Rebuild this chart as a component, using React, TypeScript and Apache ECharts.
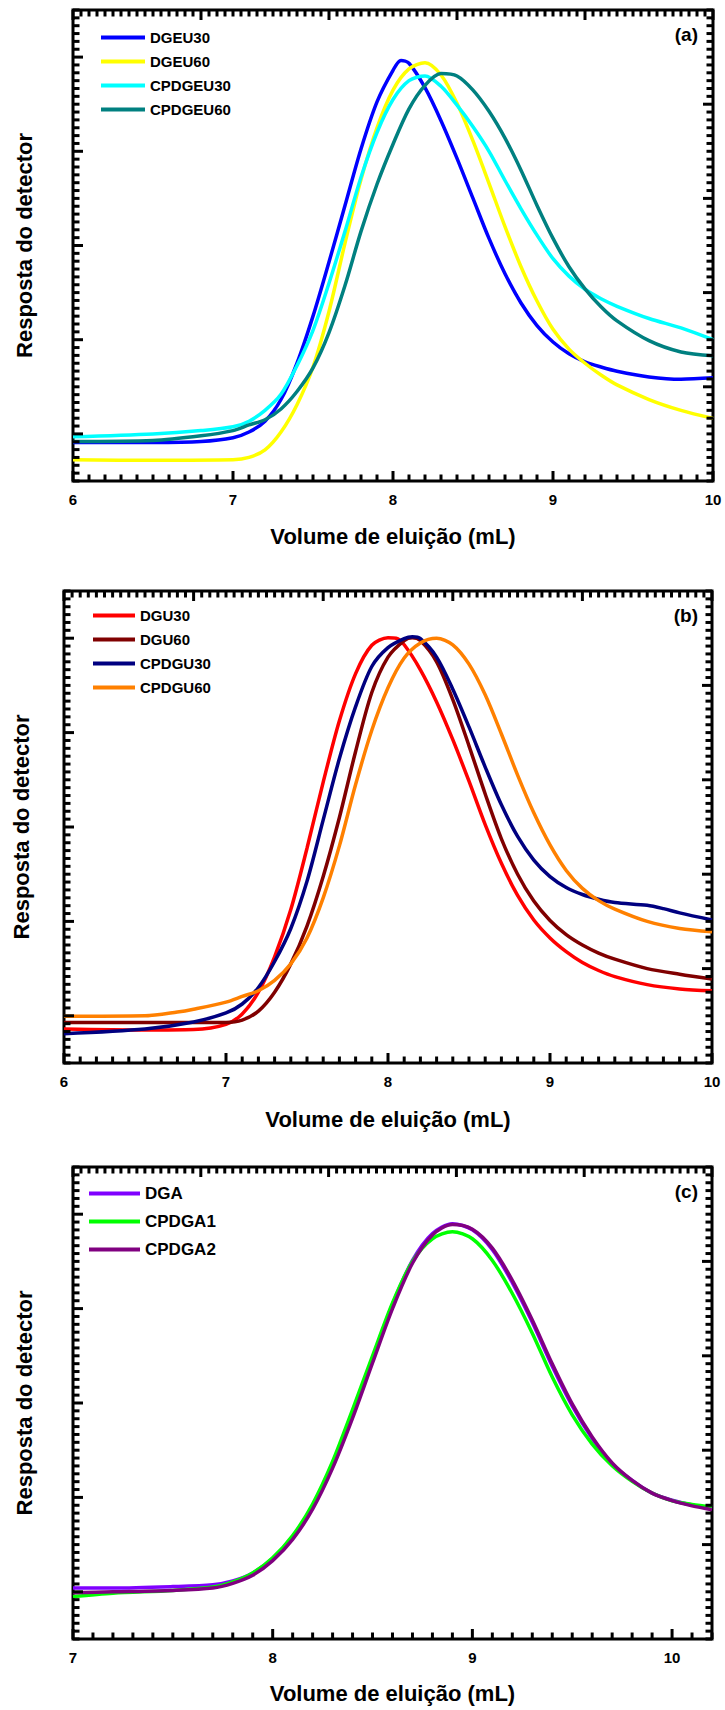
import React, { useEffect, useRef } from "react";
import * as echarts from "echarts";

type Pt = [number, number];

// ---------- Panel (a) ----------
const DGEU30: Pt[] = [[6,0.082],[6.5,0.082],[6.8,0.084],[7.0,0.092],[7.1,0.104],[7.2,0.127],[7.3,0.173],[7.4,0.250],[7.5,0.350],[7.6,0.465],[7.7,0.585],[7.8,0.705],[7.9,0.805],[8.0,0.872],[8.05,0.893],[8.1,0.887],[8.2,0.835],[8.3,0.765],[8.4,0.685],[8.5,0.600],[8.6,0.515],[8.7,0.440],[8.8,0.378],[8.9,0.330],[9.0,0.295],[9.1,0.270],[9.2,0.253],[9.3,0.242],[9.4,0.233],[9.6,0.221],[9.8,0.216],[10,0.219]];
const DGEU60: Pt[] = [[6,0.045],[6.5,0.044],[7.0,0.045],[7.1,0.050],[7.2,0.066],[7.3,0.104],[7.4,0.162],[7.5,0.242],[7.6,0.360],[7.7,0.505],[7.8,0.640],[7.9,0.750],[8.0,0.830],[8.1,0.875],[8.2,0.888],[8.3,0.862],[8.4,0.802],[8.5,0.722],[8.6,0.632],[8.7,0.540],[8.8,0.455],[8.9,0.382],[9.0,0.322],[9.1,0.280],[9.2,0.250],[9.3,0.225],[9.4,0.204],[9.6,0.173],[9.8,0.150],[10,0.133]];
const CPDGEU30: Pt[] = [[6,0.094],[6.5,0.100],[6.8,0.107],[7.0,0.115],[7.1,0.127],[7.2,0.150],[7.3,0.184],[7.4,0.245],[7.5,0.320],[7.6,0.420],[7.7,0.530],[7.8,0.645],[7.9,0.740],[8.0,0.810],[8.1,0.850],[8.2,0.860],[8.3,0.838],[8.4,0.798],[8.5,0.752],[8.6,0.700],[8.7,0.638],[8.8,0.578],[8.9,0.522],[9.0,0.472],[9.1,0.435],[9.2,0.407],[9.3,0.387],[9.4,0.371],[9.6,0.345],[9.8,0.325],[10,0.300]];
const CPDGEU60: Pt[] = [[6,0.084],[6.5,0.086],[6.8,0.096],[7.0,0.107],[7.1,0.119],[7.2,0.130],[7.3,0.153],[7.4,0.190],[7.5,0.240],[7.6,0.315],[7.7,0.415],[7.8,0.530],[7.9,0.630],[8.0,0.715],[8.1,0.790],[8.2,0.840],[8.3,0.865],[8.4,0.860],[8.5,0.830],[8.6,0.785],[8.7,0.728],[8.8,0.660],[8.9,0.585],[9.0,0.515],[9.1,0.455],[9.2,0.408],[9.3,0.370],[9.4,0.340],[9.6,0.298],[9.8,0.274],[10,0.266]];

// ---------- Panel (b) ----------
const DGU30: Pt[] = [[6,0.072],[6.5,0.070],[6.8,0.071],[7.0,0.082],[7.1,0.104],[7.2,0.150],[7.3,0.225],[7.4,0.325],[7.5,0.455],[7.6,0.595],[7.7,0.725],[7.8,0.825],[7.9,0.885],[8.0,0.901],[8.05,0.900],[8.1,0.886],[8.2,0.833],[8.3,0.765],[8.4,0.685],[8.5,0.597],[8.6,0.505],[8.7,0.423],[8.8,0.355],[8.9,0.303],[9.0,0.265],[9.1,0.236],[9.2,0.213],[9.3,0.196],[9.4,0.183],[9.6,0.166],[9.8,0.157],[10,0.153]];
const DGU60: Pt[] = [[6,0.086],[6.5,0.086],[7.0,0.086],[7.1,0.091],[7.2,0.110],[7.3,0.150],[7.4,0.210],[7.5,0.290],[7.6,0.395],[7.7,0.520],[7.8,0.660],[7.9,0.785],[8.0,0.860],[8.1,0.895],[8.15,0.901],[8.2,0.895],[8.3,0.850],[8.4,0.770],[8.5,0.672],[8.6,0.570],[8.7,0.475],[8.8,0.400],[8.9,0.343],[9.0,0.302],[9.1,0.272],[9.2,0.250],[9.3,0.233],[9.4,0.220],[9.6,0.200],[9.8,0.188],[10,0.178]];
const CPDGU30: Pt[] = [[6,0.062],[6.5,0.072],[6.8,0.087],[7.0,0.106],[7.1,0.125],[7.2,0.160],[7.3,0.215],[7.4,0.285],[7.5,0.385],[7.6,0.515],[7.7,0.645],[7.8,0.755],[7.9,0.840],[8.0,0.880],[8.1,0.899],[8.15,0.903],[8.2,0.899],[8.3,0.860],[8.4,0.792],[8.5,0.712],[8.6,0.627],[8.7,0.547],[8.8,0.480],[8.9,0.430],[9.0,0.395],[9.1,0.372],[9.2,0.357],[9.3,0.347],[9.4,0.340],[9.6,0.334],[9.7,0.327],[9.8,0.318],[10,0.303]];
const CPDGU60: Pt[] = [[6,0.099],[6.5,0.100],[6.7,0.108],[6.8,0.114],[7.0,0.129],[7.1,0.141],[7.2,0.153],[7.3,0.175],[7.4,0.210],[7.5,0.265],[7.6,0.350],[7.7,0.460],[7.8,0.590],[7.9,0.705],[8.0,0.795],[8.1,0.858],[8.2,0.890],[8.3,0.900],[8.4,0.886],[8.5,0.845],[8.6,0.780],[8.7,0.697],[8.8,0.610],[8.9,0.530],[9.0,0.462],[9.1,0.408],[9.2,0.370],[9.3,0.344],[9.4,0.326],[9.6,0.300],[9.8,0.285],[10,0.278]];

// ---------- Panel (c) ----------
const DGA: Pt[] = [[7,0.108],[7.2,0.108],[7.5,0.111],[7.7,0.115],[7.8,0.123],[7.9,0.140],[8.0,0.171],[8.1,0.217],[8.2,0.282],[8.3,0.371],[8.4,0.478],[8.5,0.594],[8.6,0.709],[8.7,0.802],[8.8,0.859],[8.9,0.880],[9.0,0.867],[9.1,0.825],[9.2,0.755],[9.3,0.671],[9.4,0.578],[9.5,0.494],[9.6,0.425],[9.7,0.371],[9.8,0.336],[9.9,0.309],[10.0,0.294],[10.1,0.284],[10.2,0.277]];
const CPDGA1: Pt[] = [[7,0.090],[7.2,0.097],[7.5,0.103],[7.7,0.110],[7.8,0.121],[7.9,0.140],[8.0,0.172],[8.1,0.219],[8.2,0.286],[8.3,0.376],[8.4,0.486],[8.5,0.600],[8.6,0.712],[8.7,0.800],[8.8,0.848],[8.9,0.863],[9.0,0.848],[9.1,0.802],[9.2,0.732],[9.3,0.648],[9.4,0.555],[9.5,0.475],[9.6,0.413],[9.7,0.367],[9.8,0.334],[9.9,0.309],[10.0,0.293],[10.1,0.285],[10.2,0.280]];
const CPDGA2: Pt[] = [[7,0.098],[7.2,0.100],[7.5,0.103],[7.7,0.108],[7.8,0.118],[7.9,0.135],[8.0,0.166],[8.1,0.211],[8.2,0.275],[8.3,0.362],[8.4,0.468],[8.5,0.585],[8.6,0.700],[8.7,0.796],[8.8,0.856],[8.9,0.878],[9.0,0.868],[9.1,0.828],[9.2,0.760],[9.3,0.676],[9.4,0.583],[9.5,0.498],[9.6,0.428],[9.7,0.373],[9.8,0.336],[9.9,0.309],[10.0,0.293],[10.1,0.282],[10.2,0.274]];

const NAMES_A = ["DGEU30", "DGEU60", "CPDGEU30", "CPDGEU60"];
const NAMES_B = ["DGU30", "DGU60", "CPDGU30", "CPDGU60"];
const NAMES_C = ["DGA", "CPDGA1", "CPDGA2"];
const COLORS_A = ["#0000ff", "#ffff00", "#00ffff", "#008080"];
const COLORS_B = ["#ff0000", "#800000", "#000080", "#ff8000"];
const COLORS_C = ["#8000ff", "#00ff00", "#800080"];

const X_LABELS_AB = [6, 7, 8, 9, 10];
const X_LABELS_C = [7, 8, 9, 10];
const X_TITLE = "Volume de eluição (mL)";
const Y_TITLE = "Resposta do detector";
const PANEL_LABELS = ["(a)", "(b)", "(c)"];

const FONT = '"Liberation Sans", Arial, Helvetica, sans-serif';

const PANELS = [
  { names: NAMES_A, colors: COLORS_A, data: [DGEU30, DGEU60, CPDGEU30, CPDGEU60], labels: X_LABELS_AB, xMin: 6, xMax: 10, topStep: 0.8,
    left: 73, top: 10, width: 640, height: 471, xGap: 44, yGap: 38, labelY: 34,
    lg: { left: 101, top: 30, itemWidth: 44, gap: 9, fs: 15 } },
  { names: NAMES_B, colors: COLORS_B, data: [DGU30, DGU60, CPDGU30, CPDGU60], labels: X_LABELS_AB, xMin: 6, xMax: 10, topStep: 0.8,
    left: 64, top: 591, width: 648, height: 472, xGap: 45, yGap: 32, labelY: 615,
    lg: { left: 93, top: 608, itemWidth: 42, gap: 9, fs: 15 } },
  { names: NAMES_C, colors: COLORS_C, data: [DGA, CPDGA1, CPDGA2], labels: X_LABELS_C, xMin: 7, xMax: 10.2, topStep: 0.64,
    left: 73, top: 1167, width: 639, height: 472, xGap: 43, yGap: 38, labelY: 1191,
    lg: { left: 89, top: 1185, itemWidth: 51, gap: 11, fs: 17 } },
];

const LEFT_MAJOR = [0.1, 0.3, 0.5, 0.7, 0.9];
const RIGHT_MAJOR = [0.2, 0.4, 0.6, 0.8];
const MAJOR_LEN = 10;
const MINOR_LEN = 6.5;

function seq(min: number, max: number, step: number, start: number): number[] {
  const out: number[] = [];
  let k = Math.ceil((min - start) / step - 1e-9);
  for (;; k++) {
    const v = +(start + k * step).toFixed(5);
    if (v > max + 1e-9) break;
    if (v >= min - 1e-9) out.push(v);
  }
  return out;
}
function without(a: number[], b: number[]): number[] {
  return a.filter((v) => !b.some((w) => Math.abs(v - w) < 1e-6));
}

export default function App() {
  const ref = useRef<HTMLDivElement>(null);

  useEffect(() => {
    if (!ref.current) return;
    const chart = echarts.init(ref.current, undefined, { renderer: "svg" });

    const grid: any[] = [];
    const xAxis: any[] = [];
    const yAxis: any[] = [];
    const series: any[] = [];
    const legend: any[] = [];

    PANELS.forEach((p, g) => {
      grid.push({
        left: p.left, top: p.top, width: p.width, height: p.height,
        containLabel: false, outerBoundsMode: "none",
        show: true, borderColor: "#000", borderWidth: 3,
      });
      xAxis.push({
        type: "value", gridIndex: g, position: "bottom", min: p.xMin, max: p.xMax,
        name: X_TITLE, nameLocation: "middle", nameGap: p.xGap,
        nameTextStyle: { fontFamily: FONT, fontWeight: "bold", fontSize: 22, color: "#000" },
        axisLine: { show: false, onZero: false },
        axisTick: { show: false },
        axisLabel: {
          show: true, customValues: p.labels, margin: 11,
          formatter: (v: number) => String(v),
          fontFamily: FONT, fontWeight: "bold", fontSize: 15, color: "#000",
        },
        splitLine: { show: false },
      });
      yAxis.push({
        type: "value", gridIndex: g, position: "left", min: 0, max: 1,
        name: Y_TITLE, nameLocation: "middle", nameGap: p.yGap,
        nameTextStyle: { fontFamily: FONT, fontWeight: "bold", fontSize: 22, color: "#000" },
        axisLine: { show: false, onZero: false },
        axisTick: { show: false },
        axisLabel: { show: false },
        splitLine: { show: false },
      });

      p.names.forEach((name, i) => {
        series.push({
          type: "line", name, xAxisIndex: g, yAxisIndex: g, data: p.data[i],
          showSymbol: false, symbol: "none", smooth: 0.3, silent: true, z: 3 + i,
          lineStyle: { color: p.colors[i], width: 3.5 },
          itemStyle: { color: p.colors[i] },
        });
      });

      legend.push({
        data: p.names, orient: "vertical", left: p.lg.left, top: p.lg.top, padding: 0,
        itemWidth: p.lg.itemWidth, itemHeight: 4, itemGap: p.lg.gap, icon: "rect", selectedMode: false,
        textStyle: { fontFamily: FONT, fontWeight: "bold", fontSize: p.lg.fs, lineHeight: p.lg.fs, color: "#000" },
      });
    });

    chart.setOption({ animation: false, backgroundColor: "#fff", grid, xAxis, yAxis, series, legend });

    // Tick marks on all four sides, placed through each grid's own scales.
    const graphic: any[] = [];
    const tick = (x1: number, y1: number, x2: number, y2: number) =>
      graphic.push({ type: "line", silent: true, z: 10, shape: { x1, y1, x2, y2 }, style: { stroke: "#000", lineWidth: 3 } });

    PANELS.forEach((p, g) => {
      const px = (x: number, y: number) => chart.convertToPixel({ gridIndex: g }, [x, y]) as number[];
      const [L, B] = px(p.xMin, 0);
      const [R, T] = px(p.xMax, 1);

      const botMajor = p.labels;
      const botMinor = without(seq(p.xMin, p.xMax, 0.1, p.xMin), botMajor);
      const topMajor = seq(p.xMin, p.xMax, p.topStep, p.xMin);
      const topMinor = without(seq(p.xMin, p.xMax, p.topStep / 16, p.xMin), topMajor);
      const leftMinor = without(seq(0, 1, 0.2 / 12, 0.1), LEFT_MAJOR);
      const rightMinor = without(seq(0, 1, 0.2 / 12, 0), RIGHT_MAJOR);

      botMajor.forEach((v) => { const x = px(v, 0)[0]; tick(x, B, x, B - MAJOR_LEN); });
      botMinor.forEach((v) => { const x = px(v, 0)[0]; tick(x, B, x, B - MINOR_LEN); });
      topMajor.forEach((v) => { const x = px(v, 1)[0]; tick(x, T, x, T + MAJOR_LEN); });
      topMinor.forEach((v) => { const x = px(v, 1)[0]; tick(x, T, x, T + MINOR_LEN); });
      LEFT_MAJOR.forEach((v) => { const y = px(p.xMin, v)[1]; tick(L, y, L + MAJOR_LEN, y); });
      leftMinor.forEach((v) => { const y = px(p.xMin, v)[1]; tick(L, y, L + MINOR_LEN, y); });
      RIGHT_MAJOR.forEach((v) => { const y = px(p.xMax, v)[1]; tick(R, y, R - MAJOR_LEN, y); });
      rightMinor.forEach((v) => { const y = px(p.xMax, v)[1]; tick(R, y, R - MINOR_LEN, y); });

      graphic.push({
        type: "text", x: 698, y: p.labelY, silent: true, z: 10,
        style: {
          text: PANEL_LABELS[g], fill: "#000", font: `bold 19px ${FONT}`,
          align: "right", verticalAlign: "middle", textAlign: "right", textVerticalAlign: "middle",
        },
      });
    });

    chart.setOption({ graphic });

    return () => chart.dispose();
  }, []);

  return (
    <div
      ref={ref}
      style={{ position: "absolute", left: 0, top: 0, width: 725, height: 1710, background: "#fff" }}
    />
  );
}
